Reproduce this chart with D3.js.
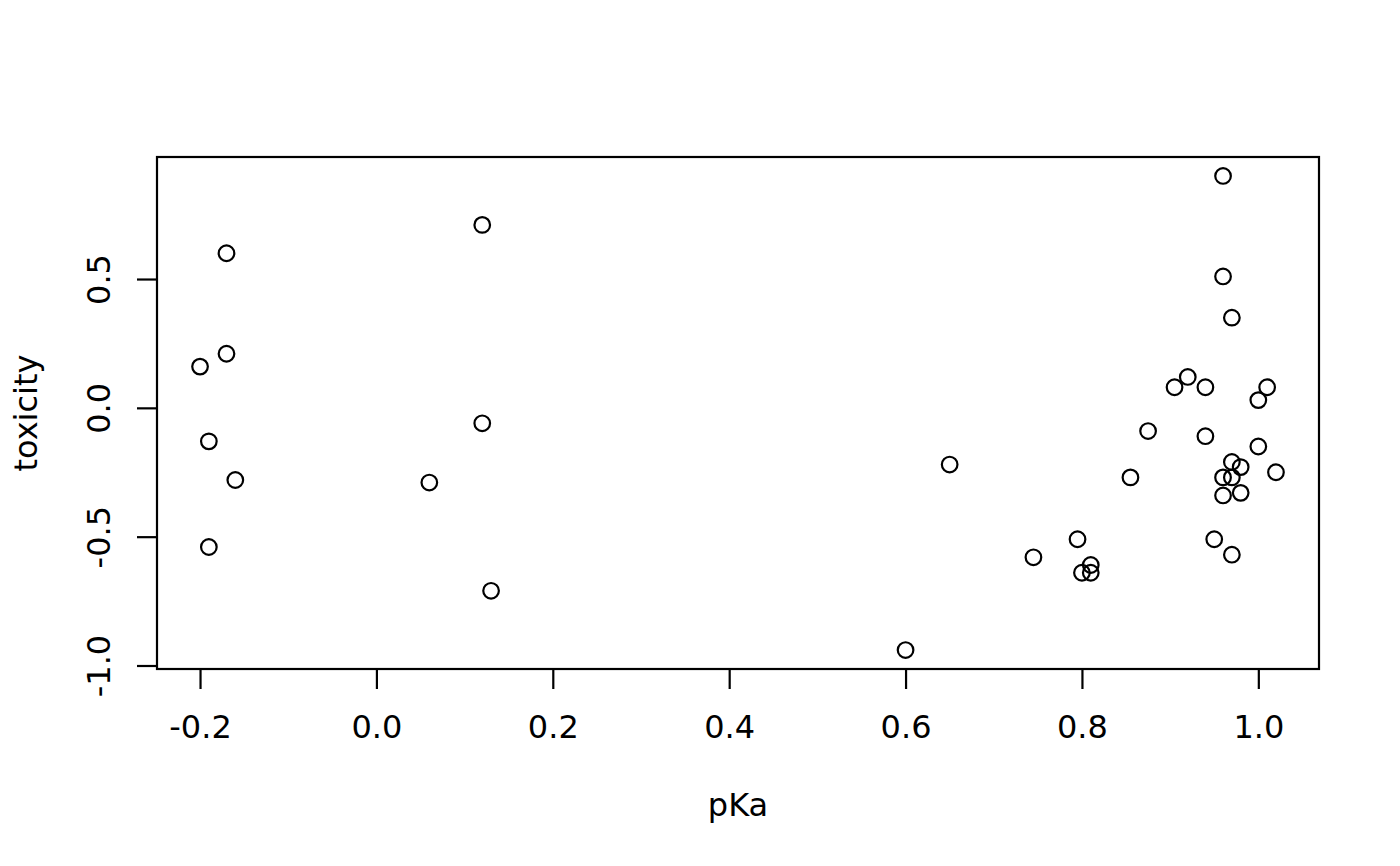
<!DOCTYPE html>
<html>
<head>
<meta charset="utf-8">
<script src="https://cdn.jsdelivr.net/npm/d3@7"></script>
<style>
  body { margin: 0; background: #fff; }
  text { font-family: "DejaVu Sans", sans-serif; fill: #000; }
</style>
</head>
<body>
<div id="chart"></div>
<script>
// pKa vs toxicity
let pKa = [-0.17, -0.20, -0.17, -0.19, -0.16, -0.19,
  0.12, 0.12, 0.06, 0.13, 0.60, 0.65,
  0.745, 0.795, 0.80, 0.81, 0.81, 0.855, 0.875,
  0.905, 0.92, 0.94, 0.94, 0.96, 0.96, 0.97,
  0.96, 0.96, 0.97, 0.97, 0.98, 0.98, 0.95, 0.97,
  1.00, 1.00, 1.01, 1.02];
let toxicity = [0.60, 0.16, 0.21, -0.13, -0.28, -0.54,
  0.71, -0.06, -0.29, -0.71, -0.94, -0.22,
  -0.58, -0.51, -0.64, -0.61, -0.64, -0.27, -0.09,
  0.08, 0.12, 0.08, -0.11, 0.90, 0.51, 0.35,
  -0.27, -0.34, -0.21, -0.27, -0.23, -0.33, -0.51, -0.57,
  0.03, -0.15, 0.08, -0.25];

let xTicks = [-0.2, 0.0, 0.2, 0.4, 0.6, 0.8, 1.0];
let yTicks = [-1.0, -0.5, 0.0, 0.5];

let width = 1400;
let height = 866;
let margin = {top: 157, right: 81, bottom: 197, left: 157};
let fontSize = 32;

let svg = d3.select("#chart").append("svg")
  .attr("width", width)
  .attr("height", height);

let points = pKa.map(function (d, i) {
  return {x: d, y: toxicity[i]};
});

// R style: pad data range by 4% on each side
function padded(ext) {
  let pad = (ext[1] - ext[0]) * 0.04;
  return [ext[0] - pad, ext[1] + pad];
}

let x = d3.scaleLinear()
  .domain(padded(d3.extent(pKa)))
  .range([margin.left, width - margin.right]);

let y = d3.scaleLinear()
  .domain(padded(d3.extent(toxicity)))
  .range([height - margin.bottom, margin.top]);

let fmt = function (d) { return d3.format(".1f")(d).replace("−", "-"); };

// box
svg.append("rect")
  .attr("x", margin.left)
  .attr("y", margin.top)
  .attr("width", width - margin.left - margin.right)
  .attr("height", height - margin.top - margin.bottom)
  .attr("fill", "none")
  .attr("stroke", "#000")
  .attr("stroke-width", 2.2);

// x axis
let xAxis = svg.append("g")
  .attr("transform", `translate(0, ${height - margin.bottom})`)
  .call(d3.axisBottom(x).tickValues(xTicks).tickSize(20).tickPadding(26));
xAxis.select(".domain").remove();
xAxis.selectAll("line").attr("stroke", "#000").attr("stroke-width", 2.2);
xAxis.selectAll("text")
  .style("font-size", fontSize + "px")
  .style("font-family", "DejaVu Sans")
  .text(fmt);

// y axis
let yAxis = svg.append("g")
  .attr("transform", `translate(${margin.left}, 0)`)
  .call(d3.axisLeft(y).tickValues(yTicks).tickSize(20));
yAxis.select(".domain").remove();
yAxis.selectAll("line").attr("stroke", "#000").attr("stroke-width", 2.2);
yAxis.selectAll("text").remove();
yAxis.selectAll(".tick")
  .append("text")
  .attr("transform", "translate(-47, 0) rotate(-90)")
  .attr("text-anchor", "middle")
  .style("font-size", fontSize + "px")
  .style("font-family", "DejaVu Sans")
  .text(fmt);

// axis titles
svg.append("text")
  .attr("x", (margin.left + width - margin.right) / 2)
  .attr("y", 816)
  .attr("text-anchor", "middle")
  .style("font-size", fontSize + "px")
  .text("pKa");

svg.append("text")
  .attr("transform", `translate(37, ${(margin.top + height - margin.bottom) / 2}) rotate(-90)`)
  .attr("text-anchor", "middle")
  .style("font-size", fontSize + "px")
  .text("toxicity");

// points
svg.append("g")
  .selectAll("circle")
  .data(points)
  .enter()
  .append("circle")
  .attr("cx", function (d) { return x(d.x); })
  .attr("cy", function (d) { return y(d.y); })
  .attr("r", 7.8)
  .attr("fill", "none")
  .attr("stroke", "#000")
  .attr("stroke-width", 2.2);
</script>
</body>
</html>
